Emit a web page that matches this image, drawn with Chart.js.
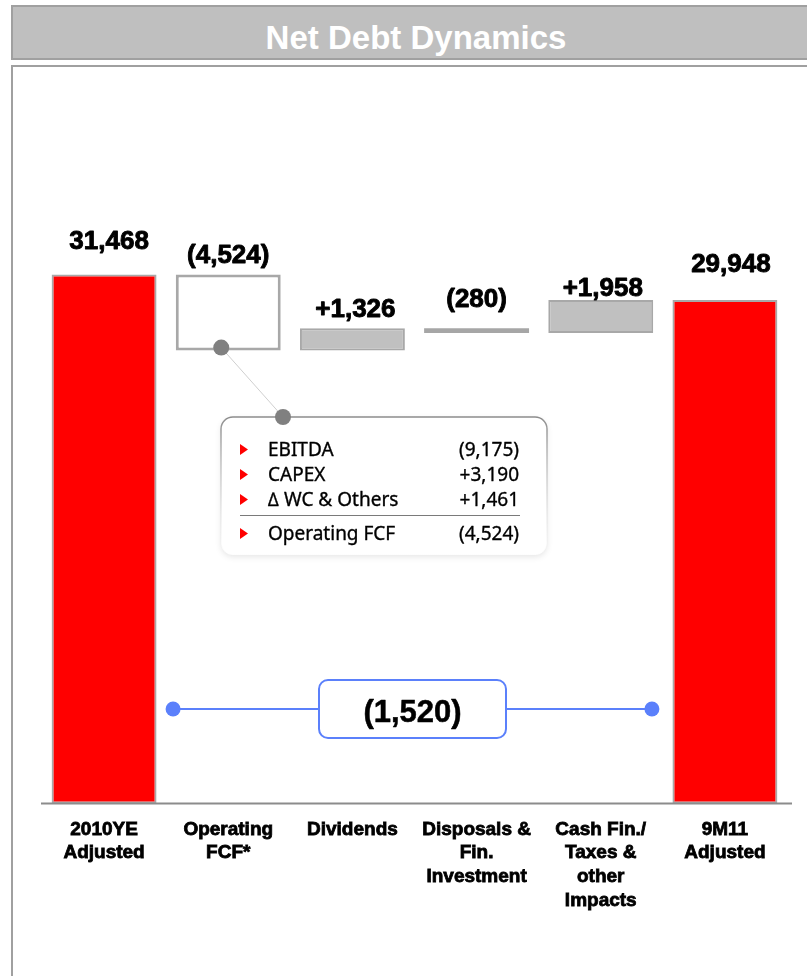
<!DOCTYPE html>
<html>
<head>
<meta charset="utf-8">
<title>Net Debt Dynamics</title>
<script src="https://cdn.jsdelivr.net/npm/chart.js@4.4.1/dist/chart.umd.min.js"></script>
<style>
  html, body { margin: 0; padding: 0; background: #fff; width: 807px; height: 976px; overflow: hidden; }
  #banner { position: absolute; left: 11px; top: 5px; width: 796px; height: 55px; box-sizing: border-box;
            background: #bfbfbf; border: 2px solid #a0a0a0; border-right: none; }
  #banner h1 { margin: 0; position: absolute; left: 12px; right: 0; top: 12px; line-height: 33px;
               text-align: center; color: #fff; font: bold 33px "Liberation Sans", Arial, sans-serif; }
  #panel { position: absolute; left: 11px; top: 65px; width: 796px; height: 911px; box-sizing: border-box;
           border-left: 2px solid #a0a0a0; border-top: 2px solid #a0a0a0; }
  #chart { position: absolute; left: 0; top: 0; }
</style>
</head>
<body>
<div id="panel"></div>
<div id="banner"><h1>Net Debt Dynamics</h1></div>
<canvas id="chart" width="807" height="976"></canvas>
<script>
// ---- data -------------------------------------------------------------
const categories = [
  ['2010YE', 'Adjusted'],
  ['Operating', 'FCF*'],
  ['Dividends'],
  ['Disposals &', 'Fin.', 'Investment'],
  ['Cash Fin./', 'Taxes &', 'other', 'Impacts'],
  ['9M11', 'Adjusted']
];
const openingDebt = 31468;
const movements = [-4524, 1326, -280, 1958];
const closingDebt = 29948;

const fcfItems = ['EBITDA', 'CAPEX', '\u2206 WC & Others'];
const fcfValues = [-9175, 3190, 1461];
const fcfTotalLabel = 'Operating FCF';
const operatingFcf = -4524;

// ---- styling ----------------------------------------------------------
const fillColors   = ['#ff0000', '#ffffff', '#c0c0c0', '#a6a6a6', '#c0c0c0', '#ff0000'];
const borderColors = ['#a8a8a8', '#a8a8a8', '#a8a8a8', '#a6a6a6', '#a8a8a8', '#a8a8a8'];
const borderWidths = [2, 3, 2, 0, 2, 2];
const labelLift = [26, 12, 11, 21, 4, 28];   // gap between bar top and value label baseline
const labelDx   = [5, 0, 3, 0, 2, 6];
const BOLD = '"Liberation Sans", Arial, sans-serif';
const SANS = '"Noto Sans", "Open Sans", sans-serif';
const BLUE = '#5b80fb';

// ---- waterfall ranges --------------------------------------------------
const ranges = [[0, openingDebt]];
let level = openingDebt;
movements.forEach(m => { ranges.push([level, level + m]); level += m; });
ranges.push([0, closingDebt]);
const shownValues = [openingDebt, ...movements, closingDebt];

function fmtAbs(v) { return Math.abs(v).toLocaleString('en-US'); }
function fmtMove(v) { return v < 0 ? '(' + fmtAbs(v) + ')' : '+' + fmtAbs(v); }
function fmtLabel(v, i) {
  return (i === 0 || i === shownValues.length - 1) ? fmtAbs(v) : fmtMove(v);
}

function roundRect(ctx, x, y, w, h, r) {
  ctx.beginPath();
  ctx.moveTo(x + r, y);
  ctx.lineTo(x + w - r, y);
  ctx.arcTo(x + w, y, x + w, y + r, r);
  ctx.lineTo(x + w, y + h - r);
  ctx.arcTo(x + w, y + h, x + w - r, y + h, r);
  ctx.lineTo(x + r, y + h);
  ctx.arcTo(x, y + h, x, y + h - r, r);
  ctx.lineTo(x, y + r);
  ctx.arcTo(x, y, x + r, y, r);
  ctx.closePath();
}

function heavyText(ctx, text, x, y, width) {
  ctx.lineWidth = width;
  ctx.lineJoin = 'round';
  ctx.strokeText(text, x, y);
  ctx.fillText(text, x, y);
}

const overlayPlugin = {
  id: 'overlay',
  afterDatasetsDraw(chart) {
    const ctx = chart.ctx;
    const area = chart.chartArea;
    const bars = chart.getDatasetMeta(0).data;

    // baseline
    ctx.save();
    ctx.strokeStyle = '#8c8c8c';
    ctx.lineWidth = 2;
    ctx.beginPath();
    ctx.moveTo(area.left - 1, area.bottom);
    ctx.lineTo(area.right + 5, area.bottom);
    ctx.stroke();

    // value labels
    ctx.fillStyle = '#000';
    ctx.strokeStyle = '#000';
    ctx.font = 'bold 26px ' + BOLD;
    ctx.textAlign = 'center';
    ctx.textBaseline = 'alphabetic';
    bars.forEach((bar, i) => {
      const top = Math.min(bar.y, bar.base);
      heavyText(ctx, fmtLabel(shownValues[i], i), bar.x + labelDx[i], top - labelLift[i], 0.9);
    });

    // callout with the operating FCF breakdown
    const box = { x: 221, y: 417, w: 326, h: 138 };
    const fcfBar = bars[1];
    const anchorX = fcfBar.x - 7;
    const anchorY = Math.max(fcfBar.y, fcfBar.base) - 3;
    const tipX = 283, tipY = box.y;

    ctx.strokeStyle = '#cfcfcf';
    ctx.lineWidth = 1;
    ctx.beginPath();
    ctx.moveTo(anchorX, anchorY);
    ctx.lineTo(tipX, tipY);
    ctx.stroke();

    ctx.save();
    ctx.shadowColor = 'rgba(0,0,0,0.10)';
    ctx.shadowBlur = 6;
    ctx.shadowOffsetY = 2;
    roundRect(ctx, box.x, box.y, box.w, box.h, 12);
    ctx.fillStyle = '#fff';
    ctx.fill();
    ctx.restore();
    const grad = ctx.createLinearGradient(0, box.y, 0, box.y + box.h);
    grad.addColorStop(0, '#8c8c8c');
    grad.addColorStop(0.5, 'rgba(190,190,190,0.6)');
    grad.addColorStop(1, 'rgba(235,235,235,0.1)');
    roundRect(ctx, box.x, box.y, box.w, box.h, 12);
    ctx.strokeStyle = grad;
    ctx.lineWidth = 1.5;
    ctx.stroke();

    ctx.fillStyle = '#808080';
    [[anchorX, anchorY], [tipX, tipY]].forEach(([x, y]) => {
      ctx.beginPath();
      ctx.arc(x, y, 8, 0, Math.PI * 2);
      ctx.fill();
    });

    const rows = fcfItems.map((t, i) => [t, fcfValues[i]]).concat([[fcfTotalLabel, operatingFcf]]);
    const baselines = [456, 481, 506, 540];
    ctx.font = '19px ' + SANS;
    ctx.strokeStyle = '#000';
    rows.forEach(([name, val], i) => {
      const b = baselines[i];
      ctx.fillStyle = '#ff0000';
      ctx.beginPath();
      ctx.moveTo(240, b - 12);
      ctx.lineTo(248, b - 6.5);
      ctx.lineTo(240, b - 1);
      ctx.closePath();
      ctx.fill();
      ctx.fillStyle = '#000';
      ctx.textAlign = 'left';
      heavyText(ctx, name, 268, b, 0.35);
      ctx.textAlign = 'right';
      heavyText(ctx, fmtMove(val), 519, b, 0.35);
    });
    ctx.strokeStyle = '#7a7a7a';
    ctx.lineWidth = 1;
    ctx.beginPath();
    ctx.moveTo(240, 515.5);
    ctx.lineTo(520, 515.5);
    ctx.stroke();

    // net change bracket between the two totals
    const netChange = closingDebt - openingDebt;
    const y = area.bottom - 94.5;
    const x1 = bars[0].x + 69, x2 = bars[bars.length - 1].x - 73;
    const tag = { x: 319, y: y - 29, w: 187, h: 58 };
    ctx.strokeStyle = BLUE;
    ctx.fillStyle = BLUE;
    ctx.lineWidth = 2;
    ctx.beginPath();
    ctx.moveTo(x1, y);
    ctx.lineTo(x2, y);
    ctx.stroke();
    [x1, x2].forEach(x => {
      ctx.beginPath();
      ctx.arc(x, y, 7.5, 0, Math.PI * 2);
      ctx.fill();
    });
    roundRect(ctx, tag.x, tag.y, tag.w, tag.h, 9);
    ctx.fillStyle = '#fff';
    ctx.fill();
    ctx.stroke();
    ctx.fillStyle = '#000';
    ctx.strokeStyle = '#000';
    ctx.font = 'bold 31px ' + BOLD;
    ctx.textAlign = 'center';
    heavyText(ctx, fmtMove(netChange), tag.x + tag.w / 2, y + 13, 0.5);
    ctx.restore();
  }
};

new Chart(document.getElementById('chart'), {
  type: 'bar',
  data: {
    labels: categories,
    datasets: [{
      data: ranges,
      backgroundColor: fillColors,
      borderColor: borderColors,
      borderWidth: borderWidths,
      borderSkipped: false,
      barPercentage: 0.845,
      categoryPercentage: 1
    }]
  },
  options: {
    responsive: false,
    animation: false,
    devicePixelRatio: 1,
    layout: { padding: { top: 131.1, left: 42, right: 20, bottom: 0 } },
    plugins: { legend: { display: false }, tooltip: { enabled: false } },
    scales: {
      x: {
        grid: { display: false, drawTicks: false },
        border: { display: false },
        ticks: {
          color: '#000',
          textStrokeColor: '#000',
          textStrokeWidth: 0.8,
          padding: 14,
          maxRotation: 0,
          autoSkip: false,
          font: { family: BOLD, size: 19, weight: 'bold', lineHeight: 1.25 }
        },
        afterFit(scale) { scale.height = 172.5; }
      },
      y: { display: false, min: 0, max: 40000 }
    }
  },
  plugins: [overlayPlugin]
});
</script>
</body>
</html>
